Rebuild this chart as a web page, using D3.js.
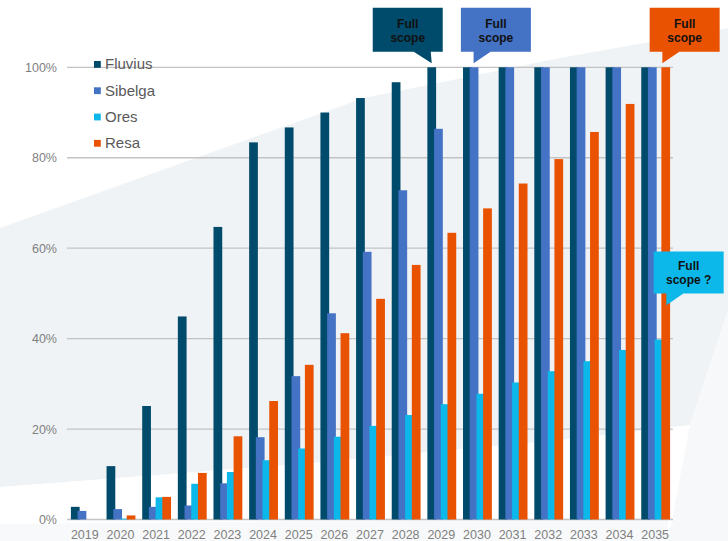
<!DOCTYPE html>
<html>
<head>
<meta charset="utf-8">
<script src="https://cdn.jsdelivr.net/npm/d3@7"></script>
<style>
  html, body { margin: 0; padding: 0; background: #fff; }
  svg { display: block; }
</style>
</head>
<body>
<div id="chart"></div>
<script>
// values (share of scope, %)
const years = ["2019", "2020", "2021", "2022", "2023", "2024", "2025", "2026", "2027",
  "2028", "2029", "2030", "2031", "2032", "2033", "2034", "2035"];
const seriesNames = ["Fluvius", "Sibelga", "Ores", "Resa"];
const seriesColors = ["#004a6b", "#4472c4", "#0cb8ea", "#e95200"];
const fluvius = [2.8, 11.8, 25.1, 44.9, 64.7, 83.4, 86.7, 90.0, 93.2, 96.7, 100, 100, 100, 100, 100, 100, 100];
const sibelga = [1.9, 2.3, 2.8, 3.1, 8.0, 18.2, 31.7, 45.6, 59.2, 72.8, 86.4, 100, 100, 100, 100, 100, 100];
const ores = [0, 0.2, 4.9, 7.9, 10.5, 13.1, 15.7, 18.3, 20.7, 23.1, 25.5, 27.8, 30.3, 32.8, 35.0, 37.5, 39.8];
const resa = [0, 0.9, 5.0, 10.3, 18.4, 26.2, 34.2, 41.2, 48.8, 56.3, 63.4, 68.8, 74.3, 79.7, 85.7, 91.9, 100];
const yTicks = [0, 20, 40, 60, 80, 100];

// callouts: which bar they point at, and the label
const calloutText = [["Full", "scope"], ["Full", "scope"], ["Full", "scope"], ["Full", "scope ?"]];
const calloutYear = ["2029", "2030", "2035", "2035"];
const calloutSeries = ["Fluvius", "Sibelga", "Resa", "Resa"];
const calloutTarget = [100, 100, 100, 47.4];
const calloutColor = ["#004a6b", "#4472c4", "#e95200", "#0cb8ea"];

const values = { Fluvius: fluvius, Sibelga: sibelga, Ores: ores, Resa: resa };

const W = 728, H = 541;
const svg = d3.select("#chart").append("svg").attr("width", W).attr("height", H);

// soft background shape
svg.append("path")
  .attr("d", "M0,228 L364,98 L560,58 L728,28 L728,310 L690,425 L560,440 L300,464 L0,487 Z")
  .attr("fill", "#eff3f5");
svg.append("path")
  .attr("d", "M690,425 L728,310 L728,541 L668,541 Z")
  .attr("fill", "#f6f8f9");
svg.append("path")
  .attr("d", "M0,524 L668,518 L668,541 L0,541 Z")
  .attr("fill", "#f7f9fa");

const x = d3.scaleBand().domain(years).range([67, 673]).padding(0);
const y = d3.scaleLinear().domain([0, 100]).range([519.5, 67.3]);

const bw = x.bandwidth() * 0.245;       // single bar width
const step = x.bandwidth() * 0.188;     // bars overlap a little
const groupW = step * 3 + bw;
const xs = d3.scalePoint().domain(seriesNames).range([0, step * 3]);
const barX = (yr, s) => x(yr) + (x.bandwidth() - groupW) / 2 + 0.5 + xs(s);

// gridlines
svg.append("g")
  .selectAll("line").data(yTicks).join("line")
  .attr("x1", 67).attr("x2", 673)
  .attr("y1", d => y(d)).attr("y2", d => y(d))
  .attr("stroke", "#c3c3c3").attr("stroke-width", 1.3);

// y labels
svg.append("g")
  .selectAll("text").data(yTicks).join("text")
  .attr("x", 57).attr("y", d => y(d) + 4.5)
  .attr("text-anchor", "end")
  .attr("font-family", "Liberation Sans, Arial, sans-serif")
  .attr("font-size", 12.5).attr("fill", "#7f7f7f")
  .text(d => d + "%");

// x labels
svg.append("g")
  .selectAll("text").data(years).join("text")
  .attr("x", d => x(d) + x.bandwidth() / 2).attr("y", 539)
  .attr("text-anchor", "middle")
  .attr("font-family", "Liberation Sans, Arial, sans-serif")
  .attr("font-size", 12.5).attr("fill", "#7f7f7f")
  .text(d => d);

// bars, series drawn in order so later ones sit on top
seriesNames.forEach((s, i) => {
  svg.append("g")
    .selectAll("rect").data(years.map((yr, j) => ({ yr, v: values[s][j] }))).join("rect")
    .attr("x", d => barX(d.yr, s))
    .attr("width", bw)
    .attr("y", d => y(d.v))
    .attr("height", d => y(0) - y(d.v))
    .attr("fill", seriesColors[i]);
});

// legend
const legend = svg.append("g").attr("transform", "translate(94,61)");
seriesNames.forEach((s, i) => {
  const row = legend.append("g").attr("transform", `translate(0,${i * 26.3})`);
  row.append("rect").attr("width", 6.8).attr("height", 6.8).attr("fill", seriesColors[i]);
  row.append("text")
    .attr("x", 11).attr("y", 8.3)
    .attr("font-family", "Liberation Sans, Arial, sans-serif")
    .attr("font-size", 15).attr("fill", "#595959")
    .text(s);
});

// callouts
calloutText.forEach((lines, i) => {
  const s = calloutSeries[i];
  const bx = barX(calloutYear[i], s);
  const tipX = i === 0 ? bx + bw / 2 : (i === 1 ? bx + bw / 2 - 0.5 : (i === 2 ? bx + 1 : bx + 5));
  const tipY = i === 3 ? y(calloutTarget[i]) : y(calloutTarget[i]) - 4;
  const h = i === 3 ? 42 : 44;
  const bottom = tipY - 11.6;
  const top = bottom - h;
  const left = i === 0 ? tipX - 59 : tipX - 12.7;
  const boxW = 70;
  const tail = i === 0 ? [tipX - 18, tipX - 1] : [tipX, tipX + 17];
  const g = svg.append("g");
  g.append("path")
    .attr("d", `M${left},${top} H${left + boxW} V${bottom} H${tail[1]} L${tipX},${tipY} L${tail[0]},${bottom} H${left} Z`)
    .attr("fill", calloutColor[i]);
  lines.forEach((t, k) => {
    g.append("text")
      .attr("x", left + boxW / 2)
      .attr("y", top + (i === 3 ? 18 : 20) + k * 14)
      .attr("text-anchor", "middle")
      .attr("font-family", "Liberation Sans, Arial, sans-serif")
      .attr("font-weight", "bold")
      .attr("font-size", 12).attr("fill", "#111")
      .text(t);
  });
});
</script>
</body>
</html>
